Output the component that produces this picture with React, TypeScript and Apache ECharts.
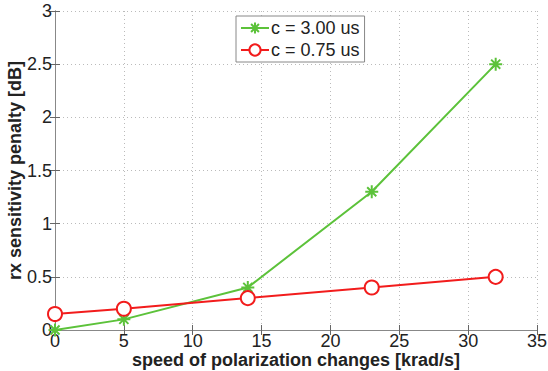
import React, { useEffect, useRef } from "react";
import * as echarts from "echarts";

const speeds = [0, 5, 14, 23, 32];
const penalty300 = [0, 0.1, 0.4, 1.3, 2.5];
const penalty075 = [0.15, 0.2, 0.3, 0.4, 0.5];
const seriesNames = ["c = 3.00 us", "c = 0.75 us"];
const xTitle = "speed of polarization changes [krad/s]";
const yTitle = "rx sensitivity penalty [dB]";

const star = "path://M0,-10L0,10M-10,0L10,0M-7,-7L7,7M-7,7L7,-7";
const FONT = "Liberation Sans, Arial, sans-serif";

export default function App() {
  const ref = useRef<HTMLDivElement>(null);
  useEffect(() => {
    const chart = echarts.init(ref.current!, null, { renderer: "svg" });
    const gridLine = { show: true, lineStyle: { color: "#bbb", type: [1, 3] as any, width: 1 } };
    const boxAxisLine = { show: true, lineStyle: { color: "#888", width: 1 } };
    chart.setOption({
      animation: false,
      backgroundColor: "#fff",
      textStyle: { fontFamily: FONT },
      grid: { left: 55, right: 11, top: 11, bottom: 41, containLabel: false, outerBoundsMode: "none" },
      legend: {
        top: 16,
        left: 236,
        orient: "vertical",
        itemGap: 4,
        itemWidth: 28,
        itemHeight: 14,
        padding: [3, 5, 3, 4],
        borderColor: "#888",
        borderWidth: 1,
        backgroundColor: "#fff",
        textStyle: { fontSize: 18, color: "#222", fontFamily: FONT, padding: [0, 0, 0, -3] },
        data: seriesNames,
      },
      xAxis: [
        {
          type: "value",
          min: 0,
          max: 35,
          interval: 5,
          name: xTitle,
          nameLocation: "middle",
          nameGap: 21,
          nameMoveOverlap: false,
          nameTextStyle: { fontSize: 18, fontWeight: "bold", color: "#222", lineHeight: 17 },
          axisLine: boxAxisLine,
          axisTick: { show: true, inside: true, length: 5, lineStyle: { color: "#666" } },
          axisLabel: { fontSize: 18, color: "#222", margin: 2, lineHeight: 17 },
          splitLine: gridLine,
        },
        {
          type: "value",
          position: "top",
          min: 0,
          max: 35,
          interval: 5,
          axisLine: boxAxisLine,
          axisTick: { show: true, inside: true, length: 5, lineStyle: { color: "#666" } },
          axisLabel: { show: false },
          splitLine: { show: false },
        },
      ],
      yAxis: [
        {
          type: "value",
          min: 0,
          max: 3,
          interval: 0.5,
          name: yTitle,
          nameLocation: "middle",
          nameGap: 31,
          nameMoveOverlap: false,
          nameRotate: 90,
          nameTextStyle: { fontSize: 18, fontWeight: "bold", color: "#222", lineHeight: 18 },
          axisLine: boxAxisLine,
          axisTick: { show: true, inside: true, length: 5, lineStyle: { color: "#666" } },
          axisLabel: { fontSize: 18, color: "#222", margin: 3 },
          splitLine: gridLine,
        },
        {
          type: "value",
          position: "right",
          min: 0,
          max: 3,
          interval: 0.5,
          axisLine: boxAxisLine,
          axisTick: { show: true, inside: true, length: 5, lineStyle: { color: "#666" } },
          axisLabel: { show: false },
          splitLine: { show: false },
        },
      ],
      series: [
        {
          name: seriesNames[0],
          type: "line",
          data: speeds.map((s, i) => [s, penalty300[i]]),
          symbol: star,
          symbolSize: 13,
          lineStyle: { color: "#5cc23a", width: 2 },
          itemStyle: { color: "#5cc23a", borderColor: "#5cc23a", borderWidth: 2 },
          z: 2,
        },
        {
          name: seriesNames[1],
          type: "line",
          data: speeds.map((s, i) => [s, penalty075[i]]),
          symbol: "circle",
          symbolSize: 14,
          lineStyle: { color: "#f21c1c", width: 2 },
          itemStyle: { color: "#fff", borderColor: "#f21c1c", borderWidth: 2 },
          z: 3,
        },
      ],
    });
    return () => chart.dispose();
  }, []);
  return <div ref={ref} style={{ width: 548, height: 371, position: "absolute", left: 0, top: 0 }} />;
}
